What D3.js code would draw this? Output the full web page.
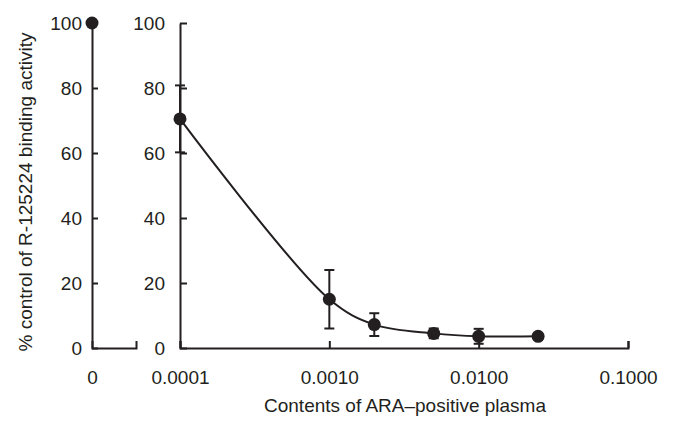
<!DOCTYPE html>
<html>
<head>
<meta charset="utf-8">
<script src="https://cdn.jsdelivr.net/npm/d3@7"></script>
<style>
  body { margin: 0; background: #fff; }
  text { font-family: "Liberation Sans", Arial, sans-serif; fill: #231f20; }
</style>
</head>
<body>
<div id="graph-container"></div>
<script>
// Data
var controlLabel = ["0"];
var controlValue = [100];
var doses = [0.0001, 0.001, 0.002, 0.005, 0.01, 0.025];
var values = [70.5, 15.0, 7.2, 4.5, 3.6, 3.6];
var errors = [10.3, 9.0, 3.5, 1.5, 2.3, 0.8];
var yTicks = [0, 20, 40, 60, 80, 100];
var xTicks = [0.0001, 0.001, 0.01, 0.1];

var svgWidth = 674;
var svgHeight = 422;
var ink = "#231f20";

var svg = d3.select("#graph-container")
  .append("svg")
  .attr("width", svgWidth)
  .attr("height", svgHeight);

// Scales
var yScale = d3.scaleLinear().domain([0, 100]).range([348, 23]);
var xLeft = d3.scaleLinear().domain([0, 1]).range([92, 136]);
var xRight = d3.scaleLog().domain([0.0001, 0.1]).range([180, 628]);

// Left panel (control) axes
var leftX = svg.append("g")
  .attr("transform", "translate(0,348)")
  .call(d3.axisBottom(xLeft)
    .tickValues([0])
    .tickFormat(function (d, i) { return controlLabel[i]; })
    .tickSizeInner(0)
    .tickSizeOuter(-7)
    .tickPadding(22.5));

var leftY = svg.append("g")
  .attr("transform", "translate(92,0)")
  .call(d3.axisLeft(yScale)
    .tickValues(yTicks)
    .tickSizeInner(-6)
    .tickSizeOuter(0)
    .tickPadding(10));

// Right panel axes
var rightX = svg.append("g")
  .attr("transform", "translate(0,348)")
  .call(d3.axisBottom(xRight)
    .tickValues(xTicks)
    .tickFormat(d3.format(".4f"))
    .tickSizeInner(-7)
    .tickSizeOuter(-7)
    .tickPadding(22.5));

var rightY = svg.append("g")
  .attr("transform", "translate(180,0)")
  .call(d3.axisLeft(yScale)
    .tickValues(yTicks)
    .tickSizeInner(-7)
    .tickSizeOuter(0)
    .tickPadding(15));

[leftX, leftY, rightX, rightY].forEach(function (g) {
  g.select(".domain").attr("stroke", ink).attr("stroke-width", 2);
  g.selectAll(".tick line").attr("stroke", ink).attr("stroke-width", 2);
  g.selectAll(".tick text")
    .attr("font-size", 19)
    .attr("font-family", "Liberation Sans, Arial, sans-serif")
    .attr("fill", ink);
});

// Axis titles
svg.append("text")
  .attr("x", 405)
  .attr("y", 412)
  .attr("text-anchor", "middle")
  .attr("font-size", 19)
  .text("Contents of ARA\u2013positive plasma");

svg.append("text")
  .attr("transform", "translate(32,192) rotate(-90)")
  .attr("text-anchor", "middle")
  .attr("font-size", 19)
  .text("% control of R-125224 binding activity");

// Control point
svg.selectAll(".control")
  .data(controlValue)
  .enter()
  .append("circle")
  .attr("class", "control")
  .attr("cx", function (d, i) { return xLeft(0); })
  .attr("cy", function (d) { return yScale(d); })
  .attr("r", 6.5)
  .attr("fill", ink);

// Fitted curve
var pts = doses.map(function (d, i) { return [xRight(d), yScale(values[i])]; });
svg.append("path")
  .attr("d", d3.line().curve(d3.curveCatmullRom.alpha(0.5))(pts))
  .attr("fill", "none")
  .attr("stroke", ink)
  .attr("stroke-width", 2);

// Error bars
var capW = 5;
var eb = svg.append("g").attr("stroke", ink).attr("stroke-width", 2);
doses.forEach(function (d, i) {
  var x = xRight(d);
  var y0 = yScale(values[i] - errors[i]);
  var y1 = yScale(values[i] + errors[i]);
  eb.append("line").attr("x1", x).attr("x2", x).attr("y1", y0).attr("y2", y1);
  eb.append("line").attr("x1", x - capW).attr("x2", x + capW).attr("y1", y0).attr("y2", y0);
  eb.append("line").attr("x1", x - capW).attr("x2", x + capW).attr("y1", y1).attr("y2", y1);
});

// Points
svg.selectAll(".pt")
  .data(doses)
  .enter()
  .append("circle")
  .attr("class", "pt")
  .attr("cx", function (d) { return xRight(d); })
  .attr("cy", function (d, i) { return yScale(values[i]); })
  .attr("r", 6.5)
  .attr("fill", ink);
</script>
</body>
</html>
